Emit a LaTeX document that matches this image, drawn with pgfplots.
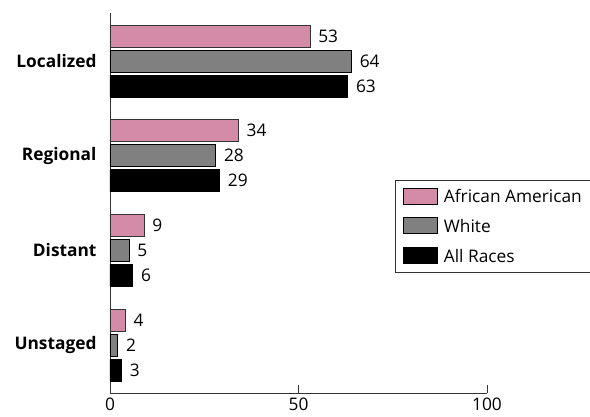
\documentclass[border=0pt]{standalone}
\usepackage{fontspec}
\setmainfont{Open Sans}
\usepackage{pgfplots}
\pgfplotsset{compat=1.18}
\definecolor{aapink}{HTML}{D48BA8}
\definecolor{wgray}{HTML}{808080}
\newcommand{\fs}{\fontsize{17.3}{20}\selectfont}
\begin{document}
\begin{tikzpicture}[font=\fs]
\begin{axis}[
  name=ax,
  scale only axis,
  width=377pt, height=380pt,
  xbar, bar width=0.232, 
  xmin=0, xmax=100,
  ymin=-0.507, ymax=3.507,
  axis x line=bottom, axis y line=left,
  axis line style={-, line width=0.8pt, black!80},
  xtick={0,50,100},
  tick align=inside,
  major tick length=8pt,
  tick style={black!80, line width=0.8pt},
  ytick={0,1,2,3},
  yticklabels={Unstaged,Distant,Regional,Localized},
  yticklabel style={font=\bfseries\fs, xshift=-10pt},
  y tick style={draw=none},
  xticklabel style={font=\fs, yshift=-1pt},
  /pgf/number format/assume math mode=true,
  nodes near coords,
  every node near coord/.append style={font=\fs, xshift=5pt, black},
  legend style={at={(0.756,0.56)}, anchor=north west, draw=black!80, line width=0.6pt,
    font=\fs, row sep=11pt, inner xsep=8pt, inner ysep=7pt},
  legend cell align=left,
  reverse legend,
  legend image code/.code={\draw[#1, draw=black] (0pt,-7pt) rectangle (34pt,9pt); \path (38pt,0pt);},
]
\addplot[fill=black, draw=black, bar shift=-0.264] coordinates {(63,3) (29,2) (6,1) (3,0)};
\addplot[fill=wgray, draw=black, bar shift=0] coordinates {(64,3) (28,2) (5,1) (2,0)};
\addplot[fill=aapink, draw=black!80, bar shift=0.264] coordinates {(53,3) (34,2) (9,1) (4,0)};
\legend{All Races, White, African American}
\end{axis}
\pgfresetboundingbox
\path ([shift={(-110pt,-24pt)}]ax.south west) rectangle ([shift={(480pt,393pt)}]ax.south west);
\end{tikzpicture}
\end{document}
